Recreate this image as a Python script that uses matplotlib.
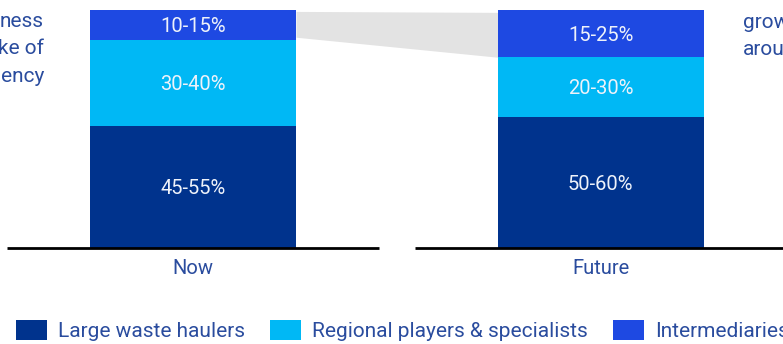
import numpy as np
import matplotlib
matplotlib.use("Agg")
from matplotlib import pyplot as plt
from matplotlib.patches import Patch

plt.rcParams['font.family'] = ['Roboto', 'DejaVu Sans']

# market share ranges (%) per player type, now vs. future
periods = ["Now", "Future"]
segments = ["Large waste haulers", "Regional players & specialists", "Intermediaries"]
share_low = {"Now": [45, 30, 10], "Future": [50, 20, 15]}
share_high = {"Now": [55, 40, 15], "Future": [60, 30, 25]}
colors = ["#00338D", "#00B8F5", "#1E49E2"]
text_blue = "#2A4C9E"

left_note = ["ness", "ke of", "ency"]
right_note = ["grow", "arou"]

W, H = 783, 344
fig = plt.figure(figsize=(W / 100, H / 100), dpi=100)
# axes: baseline at 96px from bottom, 100% at 334.5px
ax = fig.add_axes([0, 96 / H, 1, 238.5 / H])
ax.set_xlim(-193 / 407.5, (W - 193) / 407.5)
ax.set_ylim(0, 100)
ax.axis("off")

x = np.arange(len(periods))
bar_w = 206 / 407.5

# bar heights: mid-point of each range, scaled to a full 100% column
heights = []
for p in periods:
    mids = [(lo + hi) / 2 for lo, hi in zip(share_low[p], share_high[p])]
    tot = sum(mids)
    heights.append([m / tot * 100 for m in mids])
heights = np.array(heights)

bottoms = np.zeros(len(periods))
for j, seg in enumerate(segments):
    ax.bar(x, heights[:, j], bar_w, bottom=bottoms, color=colors[j], zorder=3)
    for i, p in enumerate(periods):
        ax.text(x[i], bottoms[i] + heights[i, j] / 2 - 0.8,
                f"{share_low[p][j]}-{share_high[p][j]}%",
                ha="center", va="center", color="#EEF2FA", fontsize=14.5, zorder=4)
    bottoms = bottoms + heights[:, j]

# grey connector between the intermediaries segments
top_lo = np.cumsum(heights, axis=1)[:, 1]
top_hi = np.cumsum(heights, axis=1)[:, 2]
xs = [x[0] + bar_w / 2, x[1] - bar_w / 2]
ax.fill_between(xs, [top_lo[0] + 1.2, top_lo[1]], [top_hi[0] - 0.8, top_hi[1] - 1.2],
                color="#E3E3E3", lw=0, zorder=1)

# baselines and category labels
for i, p in enumerate(periods):
    ax.plot([x[i] - 0.456, x[i] + 0.456], [0, 0], color="black", lw=2,
            solid_capstyle="butt", zorder=5, clip_on=False)
    ax.text(x[i], -8.8, p, ha="center", va="center", color=text_blue, fontsize=14.5)

# side notes
for k, line in enumerate(left_note):
    fig.text(44 / W, 1 - (27 + 27.5 * k) / H, line, ha="right", va="baseline",
             color=text_blue, fontsize=15)
for k, line in enumerate(right_note):
    fig.text(743 / W, 1 - (28 + 27 * k) / H, line, ha="left", va="baseline",
             color=text_blue, fontsize=15)

handles = [Patch(facecolor=c, edgecolor="none", label=s) for c, s in zip(colors, segments)]
fig.legend(handles=handles, loc="lower left", bbox_to_anchor=(16 / W, 3 / H),
           ncol=3, frameon=False, fontsize=15, borderpad=0, borderaxespad=0,
           handlelength=1.49, handleheight=1.1, handletextpad=0.53,
           columnspacing=1.2, labelcolor=text_blue)

fig.savefig("out.png", dpi=100)
